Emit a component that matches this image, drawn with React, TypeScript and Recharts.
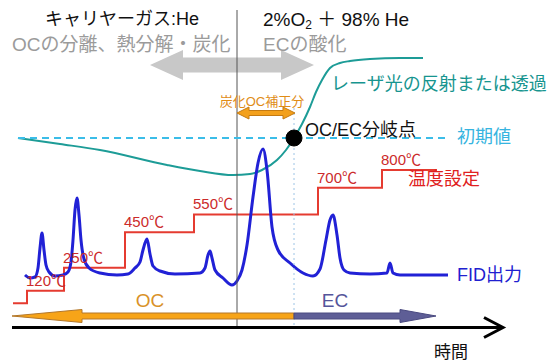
import React from 'react';
import { ComposedChart, Line, XAxis, YAxis, ReferenceLine, ReferenceDot, LabelList } from 'recharts';

// Time axis: t (arbitrary units), signal level: height above the time axis.
const fidSignal: [number, number][] = [
  [13, 50], [18, 47], [23, 48], [26, 57], [28, 77], [30, 92], [32, 75], [34, 60], [37, 53], [43, 49],
  [51, 50], [56, 53], [59, 63], [61, 85], [63, 115], [65, 127], [67, 110], [69, 85], [72, 66], [77, 57],
  [88, 52], [105, 50], [116, 51], [123, 57], [128, 63], [131, 75], [135, 86], [138, 71], [141, 59], [148, 54],
  [163, 51], [188, 52], [193, 57], [196, 70], [198, 74], [200, 67], [203, 55], [211, 47], [220, 40], [225, 44],
  [230, 55], [235, 80], [241, 128], [246, 162], [251, 176], [255, 155], [260, 98], [266, 75], [278, 62], [291, 52],
  [301, 49], [308, 56], [314, 85], [318, 105], [321, 110], [325, 90], [328, 67], [332, 55], [338, 52], [358, 51],
  [375, 52], [378, 62], [381, 52], [388, 50], [436, 50],
];

const laserSignal: [number, number][] = [
  [6, 187], [48, 181], [88, 175], [155, 160], [188, 154], [221, 150], [238, 151], [250, 155], [265, 165],
  [274, 175], [282, 187], [290, 201], [298, 218], [304, 233], [310, 245], [318, 257], [328, 262], [338, 264],
  [358, 266], [388, 267], [411, 267],
];

// Oven temperature program (°C), step starts
const tempProgram: [number, number][] = [
  [1, 50], [15, 120], [52, 250], [113, 450], [182, 550], [306, 700], [370, 800], [425, 800],
];

const initialLevel = 187;
const splitTime = 282;
const gasSwitchTime = 225;

const fidData = fidSignal.map(([t, v]) => ({ t, v }));
const laserData = laserSignal.map(([t, v]) => ({ t, v }));
const tempData = tempProgram.map(([t, temp]) => ({ t, temp }));

const FONT = "'Liberation Sans', 'Noto Sans CJK JP', sans-serif";

type ArrowOpts = {
  shaft: number;
  headW: number;
  headL: number;
  left?: boolean;
  right?: boolean;
  fill: string;
  stroke?: string;
};

const blockArrow = (o: ArrowOpts) => (p: any) => {
  const y = p.y1;
  const xa = Math.min(p.x1, p.x2);
  const xb = Math.max(p.x1, p.x2);
  const s = o.shaft / 2;
  const h = o.headW / 2;
  const pts: [number, number][] = [];
  if (o.left) {
    pts.push([xa, y], [xa + o.headL, y - h], [xa + o.headL, y - s]);
  } else {
    pts.push([xa, y - s]);
  }
  if (o.right) {
    pts.push([xb - o.headL, y - s], [xb - o.headL, y - h], [xb, y], [xb - o.headL, y + h], [xb - o.headL, y + s]);
  } else {
    pts.push([xb, y - s], [xb, y + s]);
  }
  if (o.left) {
    pts.push([xa + o.headL, y + s], [xa + o.headL, y + h]);
  } else {
    pts.push([xa, y + s]);
  }
  return (
    <polygon
      points={pts.map((q) => q.join(',')).join(' ')}
      fill={o.fill}
      stroke={o.stroke ?? 'none'}
      strokeWidth={o.stroke ? 1 : 0}
    />
  );
};

const timeAxisShape = (p: any) => {
  const y = p.y1;
  const xa = Math.min(p.x1, p.x2);
  const xb = Math.max(p.x1, p.x2);
  return (
    <g>
      <line x1={xa} y1={y} x2={xb - 1} y2={y} stroke="#000" strokeWidth={3} />
      <polyline
        points={`${xb - 19},${y - 10} ${xb},${y} ${xb - 19},${y + 10}`}
        fill="none"
        stroke="#000"
        strokeWidth={3}
        strokeLinejoin="miter"
      />
    </g>
  );
};

const txt =
  (content: React.ReactNode, color: string, size: number, anchor: 'start' | 'middle' | 'end' = 'start', weight: number | string = 'normal') =>
  (p: any) => (
    <text
      x={p.cx}
      y={p.cy}
      fill={color}
      fontSize={size}
      fontFamily={FONT}
      fontWeight={weight}
      textAnchor={anchor}
      dominantBaseline="central"
    >
      {content}
    </text>
  );

const tempLabel = (p: any) => {
  const { x, y, value, index } = p;
  if (index === 0 || index === tempData.length - 1) return null;
  return (
    <text x={x - 1} y={y - 5} fill="#cc2b2b" fontSize={15} fontFamily={FONT}>
      {`${value}℃`}
    </text>
  );
};

export default function App() {
  return (
    <div style={{ position: 'fixed', left: 0, top: 0, width: 560, height: 361, background: '#fff' }}>
      <ComposedChart width={560} height={361} margin={{ top: 0, right: 0, bottom: 0, left: 0 }}>
        <XAxis type="number" dataKey="t" domain={[-12, 548]} allowDataOverflow hide />
        <YAxis yAxisId="lv" type="number" domain={[-36, 325]} allowDataOverflow hide width={0} />
        <YAxis yAxisId="temp" type="number" domain={[-275, 1757]} allowDataOverflow hide width={0} />

        {/* carrier-gas phase arrow */}
        <ReferenceLine
          yAxisId="lv"
          segment={[{ x: 138, y: 260 }, { x: 302, y: 260 }]}
          shape={blockArrow({ shaft: 15, headW: 30, headL: 33, left: true, right: true, fill: '#c8c8c8' })}
        />

        <Line
          yAxisId="temp"
          data={tempData}
          dataKey="temp"
          type="stepAfter"
          stroke="#e53b30"
          strokeWidth={2}
          dot={false}
          activeDot={false}
          legendType="none"
          isAnimationActive={false}
        >
          <LabelList dataKey="temp" content={tempLabel} />
        </Line>
        <Line
          yAxisId="lv"
          data={laserData}
          dataKey="v"
          type="monotone"
          stroke="#1d9c97"
          strokeWidth={2}
          dot={false}
          activeDot={false}
          legendType="none"
          isAnimationActive={false}
        />
        <Line
          yAxisId="lv"
          data={fidData}
          dataKey="v"
          type="monotone"
          stroke="#2121d6"
          strokeWidth={3}
          dot={false}
          activeDot={false}
          legendType="none"
          isAnimationActive={false}
        />

        {/* gas switch */}
        <ReferenceLine
          yAxisId="lv"
          segment={[{ x: gasSwitchTime, y: 315 }, { x: gasSwitchTime, y: -2 }]}
          stroke="#555"
          strokeWidth={1}
        />
        {/* OC/EC split */}
        <ReferenceLine
          yAxisId="lv"
          segment={[{ x: splitTime, y: 217 }, { x: splitTime, y: -2 }]}
          stroke="#9cc4e6"
          strokeWidth={1}
          strokeDasharray="2 3"
        />
        <ReferenceLine
          yAxisId="lv"
          segment={[{ x: 6, y: initialLevel }, { x: 438, y: initialLevel }]}
          stroke="#3bbde8"
          strokeWidth={2}
          strokeDasharray="7 5"
        />
        <ReferenceLine
          yAxisId="lv"
          segment={[{ x: gasSwitchTime, y: 212 }, { x: splitTime + 1, y: 212 }]}
          shape={blockArrow({ shaft: 5, headW: 12, headL: 12, left: true, right: true, fill: '#f3a01c', stroke: '#c47a12' })}
        />
        <ReferenceDot yAxisId="lv" x={splitTime} y={initialLevel} r={8} fill="#000" stroke="#000" />

        {/* OC / EC fractions and time axis */}
        <ReferenceLine
          yAxisId="lv"
          segment={[{ x: 0, y: 9 }, { x: splitTime, y: 9 }]}
          shape={blockArrow({ shaft: 6, headW: 13, headL: 70, left: true, fill: '#f7a418', stroke: '#b3772a' })}
        />
        <ReferenceLine
          yAxisId="lv"
          segment={[{ x: splitTime, y: 9 }, { x: 424, y: 9 }]}
          shape={blockArrow({ shaft: 6, headW: 13, headL: 36, right: true, fill: '#5e5e96', stroke: '#4a4a80' })}
        />
        <ReferenceLine
          yAxisId="lv"
          segment={[{ x: 0, y: -2.5 }, { x: 491, y: -2.5 }]}
          shape={timeAxisShape}
        />

        {/* annotations */}
        <ReferenceDot yAxisId="lv" x={110} y={306} r={1} shape={txt('キャリヤーガス:He', '#111', 18, 'middle')} />
        <ReferenceDot yAxisId="lv" x={0} y={281} r={1} shape={txt('OCの分離、熱分解・炭化', '#9b9b9b', 19)} />
        <ReferenceDot
          yAxisId="lv"
          x={251}
          y={306}
          r={1}
          shape={txt(
            <>
              <tspan>2%O</tspan>
              <tspan fontSize={12} dy={6}>2</tspan>
              <tspan dy={-6}> ＋ 98% He</tspan>
            </>,
            '#111',
            19
          )}
        />
        <ReferenceDot yAxisId="lv" x={251} y={281} r={1} shape={txt('ECの酸化', '#9b9b9b', 19)} />
        <ReferenceDot yAxisId="lv" x={319} y={241} r={1} shape={txt('レーザ光の反射または透過', '#17958f', 18)} />
        <ReferenceDot yAxisId="lv" x={250} y={224} r={1} shape={txt('炭化OC補正分', '#e08c16', 13, 'middle')} />
        <ReferenceDot yAxisId="lv" x={293} y={195} r={1} shape={txt('OC/EC分岐点', '#111', 18)} />
        <ReferenceDot yAxisId="lv" x={445} y={188} r={1} shape={txt('初期値', '#36b4e0', 18)} />
        <ReferenceDot yAxisId="lv" x={396} y={146} r={1} shape={txt('温度設定', '#e02020', 18)} />
        <ReferenceDot yAxisId="lv" x={445} y={50} r={1} shape={txt('FID出力', '#2020d0', 18)} />
        <ReferenceDot yAxisId="lv" x={138} y={25} r={1} shape={txt('OC', '#d99228', 19, 'middle')} />
        <ReferenceDot yAxisId="lv" x={323} y={25} r={1} shape={txt('EC', '#55559a', 19, 'middle')} />
        <ReferenceDot yAxisId="lv" x={439} y={-27} r={1} shape={txt('時間', '#111', 17, 'middle')} />
      </ComposedChart>
    </div>
  );
}
